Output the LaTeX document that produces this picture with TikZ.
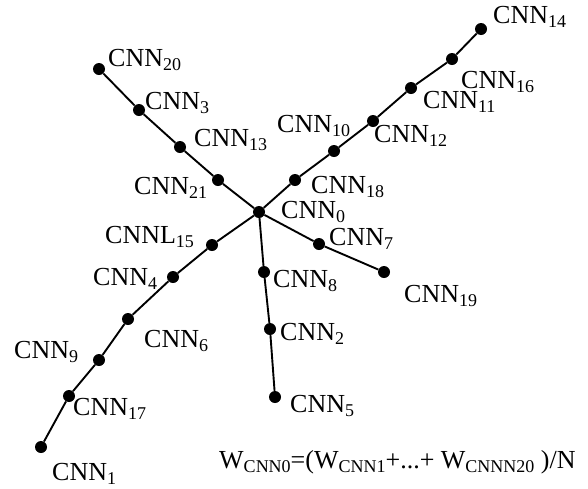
\documentclass[tikz,border=0pt]{standalone}
\usepackage{fontspec}
\setmainfont{Liberation Serif}
\newcommand\mysub[1]{\raisebox{-0.19em}{\fontsize{18}{18}\selectfont #1}}
\begin{document}
\begin{tikzpicture}[x=1pt,y=-1pt,
  dot/.style={circle,fill=black,inner sep=0pt,minimum size=12pt},
  lbl/.style={anchor=base west,inner sep=0pt,font=\fontsize{26}{30}\selectfont},
  edge/.style={line width=1.9pt}]
\useasboundingbox (0,0) rectangle (588,488);
% dots
\node[dot] (n0) at (259,212) {};
\node[dot] (n18) at (295,180) {};
\node[dot] (n10) at (334,151) {};
\node[dot] (n12) at (373,121) {};
\node[dot] (n11) at (411,88) {};
\node[dot] (n16) at (452,59) {};
\node[dot] (n14) at (481,29) {};
\node[dot] (n21) at (218,180) {};
\node[dot] (n13) at (180,147) {};
\node[dot] (n3) at (139,110) {};
\node[dot] (n20) at (99,69) {};
\node[dot] (n15) at (212,245) {};
\node[dot] (n4) at (173,277) {};
\node[dot] (n6) at (128,319) {};
\node[dot] (n9) at (99,360) {};
\node[dot] (n17) at (69,396) {};
\node[dot] (n1) at (41,447) {};
\node[dot] (n8) at (264,272) {};
\node[dot] (n2) at (270,329) {};
\node[dot] (n5) at (275,397) {};
\node[dot] (n7) at (319,244) {};
\node[dot] (n19) at (384,272) {};
% edges
\draw[edge] (n0) -- (n18) -- (n10) -- (n12) -- (n11) -- (n16) -- (n14);
\draw[edge] (n0) -- (n21) -- (n13) -- (n3) -- (n20);
\draw[edge] (n0) -- (n15) -- (n4) -- (n6) -- (n9) -- (n17) -- (n1);
\draw[edge] (n0) -- (n8) -- (n2) -- (n5);
\draw[edge] (n0) -- (n7) -- (n19);
% labels
\node[lbl] (l20) at (108,66) {CNN\mysub{20}};
\node[lbl] (l3) at (145,109) {CNN\mysub{3}};
\node[lbl] (l13) at (194,146) {CNN\mysub{13}};
\node[lbl] (l21) at (134,194) {CNN\mysub{21}};
\node[lbl] (l15) at (105,243) {CNNL\mysub{15}};
\node[lbl] (l10) at (277,132) {CNN\mysub{10}};
\node[lbl] (l0) at (281,218) {CNN\mysub{0}};
\node[lbl] (l14) at (493,23) {CNN\mysub{14}};
\node[lbl] (l16) at (461,88) {CNN\mysub{16}};
\node[lbl] (l11) at (423,108) {CNN\mysub{11}};
\node[lbl] (l12) at (374,142) {CNN\mysub{12}};
\node[lbl] (l18) at (311,193) {CNN\mysub{18}};
\node[lbl] (l7) at (329,245) {CNN\mysub{7}};
\node[lbl] (l4) at (93,285) {CNN\mysub{4}};
\node[lbl] (l6) at (144,347) {CNN\mysub{6}};
\node[lbl] (l9) at (14,358) {CNN\mysub{9}};
\node[lbl] (l17) at (73,415) {CNN\mysub{17}};
\node[lbl] (l1) at (52,480) {CNN\mysub{1}};
\node[lbl] (l8) at (273,287) {CNN\mysub{8}};
\node[lbl] (l19) at (404,302) {CNN\mysub{19}};
\node[lbl] (l2) at (280,340) {CNN\mysub{2}};
\node[lbl] (l5) at (290,412) {CNN\mysub{5}};
\node[lbl] (formula) at (219,468) {W\mysub{CNN0}=(W\mysub{CNN1}+...+ W\mysub{CNNN20} )/N};
\end{tikzpicture}
\end{document}
